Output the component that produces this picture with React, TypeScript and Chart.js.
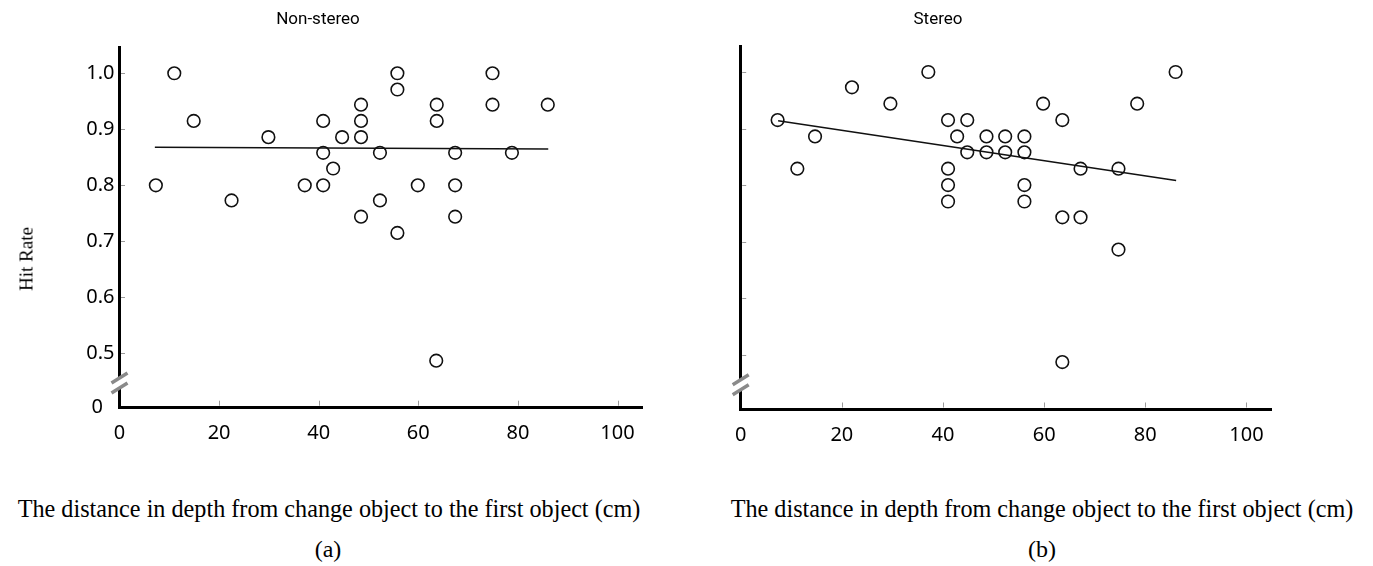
import React, { useEffect, useRef } from "react";
import { Chart, registerables } from "chart.js";

Chart.register(...registerables);

// ---------- data ----------
const nonStereoX = [7.3, 11.0, 14.9, 22.5, 29.9, 37.2, 40.9, 40.9, 40.9, 42.9, 44.7, 48.5, 48.5, 48.5, 48.5, 52.3, 52.3, 55.8, 55.8, 55.8, 59.9, 63.7, 63.7, 63.6, 67.4, 67.4, 67.4, 74.9, 74.9, 78.8, 86.0];
const nonStereoY = [0.8, 1.0, 0.915, 0.773, 0.886, 0.8, 0.915, 0.858, 0.8, 0.83, 0.886, 0.944, 0.915, 0.886, 0.744, 0.858, 0.773, 1.0, 0.971, 0.715, 0.8, 0.944, 0.915, 0.487, 0.858, 0.8, 0.744, 1.0, 0.944, 0.858, 0.944];
const nonStereoTrendX = [7.1, 86.1];
const nonStereoTrendY = [0.868, 0.865];

const stereoX = [7.3, 11.2, 14.7, 22.0, 29.6, 37.1, 41.0, 41.0, 41.0, 41.0, 42.8, 44.8, 44.8, 48.6, 48.6, 52.3, 52.3, 56.1, 56.1, 56.1, 56.1, 59.8, 63.6, 63.6, 63.6, 67.2, 67.2, 74.7, 74.7, 78.4, 86.0];
const stereoY = [0.915, 0.829, 0.886, 0.973, 0.944, 1.0, 0.915, 0.829, 0.8, 0.771, 0.886, 0.915, 0.858, 0.886, 0.858, 0.886, 0.858, 0.886, 0.858, 0.8, 0.771, 0.944, 0.915, 0.743, 0.487, 0.829, 0.743, 0.829, 0.686, 0.944, 1.0];
const stereoTrendX = [7.4, 86.1];
const stereoTrendY = [0.914, 0.808];

const xTickValues = [0, 20, 40, 60, 80, 100];
const xTickLabels = ["0", "20", "40", "60", "80", "100"];
// broken axis: the bottom tick stands for 0
const yTickValues = [0.404, 0.5, 0.6, 0.7, 0.8, 0.9, 1.0];
const yTickLabels = ["0\u2007", "0.5", "0.6", "0.7", "0.8", "0.9", "1.0"];
const xMin = 0;
const xMax = 105;
const yMin = 0.404;
const yMax = 1.046;
const breakValue = 0.447;

const tickFont = { family: "'Noto Sans', sans-serif", size: 20 };

const decorPlugin = {
  id: "decor",
  afterDraw(chart: any) {
    const ctx = chart.ctx;
    const xs = chart.scales.x;
    const ys = chart.scales.y;
    const area = chart.chartArea;
    ctx.save();
    // inward tick marks
    ctx.strokeStyle = "#9a9a9a";
    ctx.lineWidth = 1;
    ctx.beginPath();
    xTickValues.forEach((v) => {
      if (v === 0) return;
      const px = Math.round(xs.getPixelForValue(v)) + 0.5;
      ctx.moveTo(px, area.bottom - 1.5);
      ctx.lineTo(px, area.bottom - 6.5);
    });
    yTickValues.forEach((v, i) => {
      if (i === 0) return;
      const py = Math.round(ys.getPixelForValue(v)) + 0.5;
      ctx.moveTo(area.left + 1.5, py);
      ctx.lineTo(area.left + 5.5, py);
    });
    ctx.stroke();
    // axis break
    const yc = ys.getPixelForValue(breakValue);
    const x = area.left;
    ctx.fillStyle = "#ffffff";
    ctx.fillRect(x - 2.5, yc - 5, 5, 10);
    ctx.strokeStyle = "#8a8a8a";
    ctx.lineWidth = 3.5;
    ctx.beginPath();
    ctx.moveTo(x - 8, yc);
    ctx.lineTo(x + 8, yc - 10);
    ctx.moveTo(x - 8, yc + 10);
    ctx.lineTo(x + 8, yc);
    ctx.stroke();
    ctx.restore();
  },
};

type PanelProps = {
  left: number;
  width: number;
  height: number;
  areaLeft: number;
  areaRight: number;
  areaTop: number;
  areaBottom: number;
  xs: number[];
  ys: number[];
  tx: number[];
  ty: number[];
  showYLabels: boolean;
};

function Panel(p: PanelProps) {
  const ref = useRef<HTMLCanvasElement>(null);
  useEffect(() => {
    if (!ref.current) return;
    const chart = new Chart(ref.current, {
      type: "scatter",
      data: {
        datasets: [
          {
            type: "line",
            data: p.tx.map((x, i) => ({ x, y: p.ty[i] })),
            borderColor: "#111",
            borderWidth: 1.5,
            pointRadius: 0,
            fill: false,
          } as any,
          {
            data: p.xs.map((x, i) => ({ x, y: p.ys[i] })),
            pointStyle: "circle",
            pointRadius: 6.3,
            pointBorderWidth: 1.6,
            borderColor: "#111",
            backgroundColor: "rgba(255,255,255,0)",
            pointHoverRadius: 6.3,
          } as any,
        ],
      },
      options: {
        responsive: false,
        animation: false,
        events: [],
        layout: {
          padding: {
            left: 0,
            top: p.areaTop,
            right: p.width - p.areaRight,
            bottom: 0,
          },
        },
        plugins: {
          legend: { display: false },
          tooltip: { enabled: false },
          title: { display: false },
        },
        scales: {
          x: {
            type: "linear",
            min: xMin,
            max: xMax,
            afterBuildTicks: (s: any) => {
              s.ticks = xTickValues.map((v) => ({ value: v }));
            },
            afterFit: (s: any) => {
              s.height = p.height - p.areaBottom;
            },
            grid: { display: false, drawTicks: false },
            border: { display: true, color: "#000", width: 3 },
            ticks: {
              color: "#000",
              font: tickFont,
              padding: 14,
              maxRotation: 0,
              autoSkip: false,
              callback: (_v: any, i: number) => xTickLabels[i],
            },
          },
          y: {
            type: "linear",
            min: yMin,
            max: yMax,
            afterBuildTicks: (s: any) => {
              s.ticks = yTickValues.map((v) => ({ value: v }));
            },
            afterFit: (s: any) => {
              s.width = p.areaLeft;
            },
            grid: { display: false, drawTicks: false },
            border: { display: true, color: "#000", width: 3 },
            ticks: {
              display: p.showYLabels,
              color: "#000",
              font: tickFont,
              padding: 5,
              autoSkip: false,
              callback: (_v: any, i: number) => yTickLabels[i],
            },
          },
        },
      },
      plugins: [decorPlugin],
    } as any);
    return () => chart.destroy();
  }, []);
  return (
    <canvas
      ref={ref}
      width={p.width}
      height={p.height}
      style={{ position: "absolute", left: p.left, top: 0, width: p.width, height: p.height }}
    />
  );
}

const serif = "'Liberation Serif', 'Times New Roman', serif";
const sans = "Roboto, 'Noto Sans', sans-serif";

function Text(props: { x: number; y: number; text: string; font: string; size: number; rotate?: boolean }) {
  return (
    <div
      style={{
        position: "absolute",
        left: props.x,
        top: props.y,
        transform: `translate(-50%, -50%)${props.rotate ? " rotate(-90deg)" : ""}`,
        fontFamily: props.font,
        fontSize: props.size,
        whiteSpace: "nowrap",
        color: "#000",
        lineHeight: 1,
      }}
    >
      {props.text}
    </div>
  );
}

export default function App() {
  return (
    <div style={{ position: "absolute", left: 0, top: 0, width: 1373, height: 566, background: "#fff", overflow: "hidden" }}>
      <Panel
        left={0}
        width={690}
        height={460}
        areaLeft={119.5}
        areaRight={642.4}
        areaTop={47.5}
        areaBottom={407.2}
        xs={nonStereoX}
        ys={nonStereoY}
        tx={nonStereoTrendX}
        ty={nonStereoTrendY}
        showYLabels={true}
      />
      <Panel
        left={690}
        width={683}
        height={460}
        areaLeft={50.7}
        areaRight={581.7}
        areaTop={46}
        areaBottom={409}
        xs={stereoX}
        ys={stereoY}
        tx={stereoTrendX}
        ty={stereoTrendY}
        showYLabels={false}
      />
      <Text x={318} y={18} text="Non-stereo" font={sans} size={17} />
      <Text x={938} y={18} text="Stereo" font={sans} size={17} />
      <Text x={26} y={259} text="Hit Rate" font={serif} size={19} rotate />
      <Text x={329} y={509} text="The distance in depth from change object to the first object (cm)" font={serif} size={24.2} />
      <Text x={1042} y={509} text="The distance in depth from change object to the first object (cm)" font={serif} size={24.2} />
      <Text x={328} y={549} text="(a)" font={serif} size={24} />
      <Text x={1042} y={549} text="(b)" font={serif} size={24} />
    </div>
  );
}
